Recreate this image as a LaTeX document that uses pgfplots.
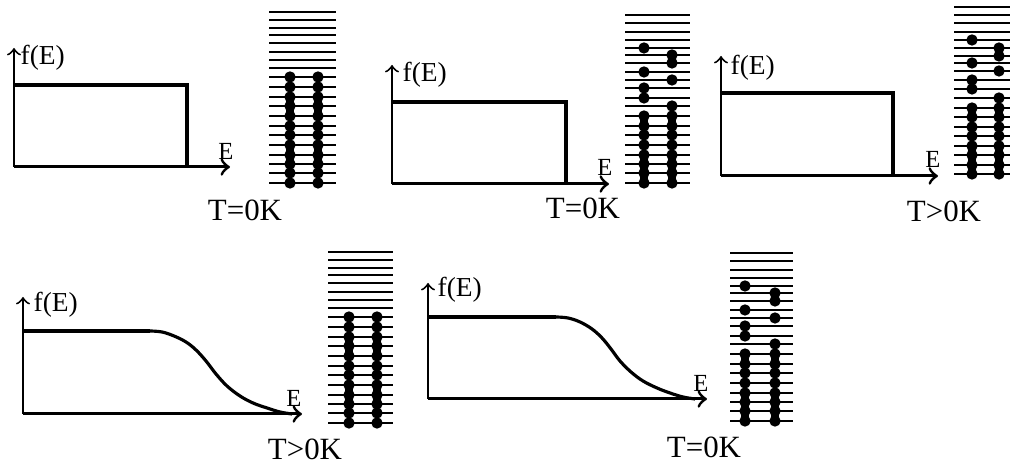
\documentclass[border=0pt]{standalone}
\usepackage{pgfplots}
\pgfplotsset{compat=1.18}
\usepackage{fontspec}
\setmainfont{Liberation Serif}
\tikzset{
  xax/.style={black, line width=0.85pt, no marks, ->},
  yax/.style={black, line width=0.55pt, no marks, ->},
  box/.style={black, line width=0.9pt, no marks},
  lev/.style={black, line width=0.6pt, no marks},
  dot/.style={black, only marks, mark=*, mark size=1.4pt},
  bar/.style={black, line width=2.2pt, no marks},
  lab/.style={font=\fontsize{7.8}{9}\selectfont, anchor=west, inner sep=0pt},
  elab/.style={font=\fontsize{7}{8}\selectfont, inner sep=0pt},
  tlab/.style={font=\fontsize{8.8}{10}\selectfont, inner sep=0pt},
}
\begin{document}
\begin{tikzpicture}
\begin{axis}[
  scale only axis, width=10.1cm, height=4.63cm,
  xmin=0, xmax=1010, ymin=0, ymax=463, y dir=reverse,
  hide axis, clip=false, unbounded coords=jump,
]
% ---------------- Panel 1 ----------------
\addplot[yax] coordinates {(14,167) (14,48)};
\addplot[xax] coordinates {(14,167) (230,167)};
\addplot[box] coordinates {(14,85) (187,85) (187,167)};
\addplot[lev] coordinates {
(269,12)(336,12) (nan,nan) (269,20)(336,20) (nan,nan) (269,28)(336,28) (nan,nan)
(269,35)(336,35) (nan,nan) (269,43)(336,43) (nan,nan) (269,52)(336,52) (nan,nan)
(269,60)(336,60) (nan,nan) (269,68)(336,68) (nan,nan) (269,77)(336,77) (nan,nan)
(269,87)(336,87) (nan,nan) (269,97)(336,97) (nan,nan) (269,106)(336,106) (nan,nan)
(269,116)(336,116) (nan,nan) (269,126)(336,126) (nan,nan) (269,135)(336,135) (nan,nan)
(269,145)(336,145) (nan,nan) (269,155)(336,155) (nan,nan) (269,164)(336,164) (nan,nan)
(269,173)(336,173) (nan,nan) (269,183)(336,183)};
\addplot[bar] coordinates {(290,97)(290,116) (nan,nan) (318,97)(318,116) (nan,nan)
(290,145)(290,164) (nan,nan) (318,145)(318,164)};
\addplot[dot] coordinates {
(290,77)(290,87)(290,97)(290,106)(290,116)(290,126)(290,135)(290,145)(290,155)(290,164)(290,173)(290,183)
(318,77)(318,87)(318,97)(318,106)(318,116)(318,126)(318,135)(318,145)(318,155)(318,164)(318,173)(318,183)};
\node[lab] at (axis cs:20,58) {f(E)};
\node[elab] at (axis cs:226,151) {E};
\node[tlab] at (axis cs:245,210) {T=0K};
% ---------------- Panel 2 ----------------
\addplot[yax] coordinates {(392,184) (392,65)};
\addplot[xax] coordinates {(392,184) (609,184)};
\addplot[box] coordinates {(392,102) (566,102) (566,184)};
\addplot[lev] coordinates {
(625,15)(690,15) (nan,nan) (625,23)(690,23) (nan,nan) (625,32)(690,32) (nan,nan)
(625,40)(690,40) (nan,nan) (625,48)(690,48) (nan,nan) (625,55)(690,55) (nan,nan)
(625,63)(690,63) (nan,nan) (625,72)(690,72) (nan,nan) (625,80)(690,80) (nan,nan)
(625,88)(690,88) (nan,nan) (625,98)(690,98) (nan,nan) (625,106)(690,106) (nan,nan)
(625,116)(690,116) (nan,nan) (625,126)(690,126) (nan,nan) (625,135)(690,135) (nan,nan)
(625,145)(690,145) (nan,nan) (625,155)(690,155) (nan,nan) (625,164)(690,164) (nan,nan)
(625,173)(690,173) (nan,nan) (625,183)(690,183)};
\addplot[bar] coordinates {(644,116)(644,126) (nan,nan) (672,116)(672,126) (nan,nan)
(644,155)(644,183) (nan,nan) (672,155)(672,183)};
\addplot[dot] coordinates {
(644,48)(644,72)(644,88)(644,98)(644,116)(644,126)(644,135)(644,145)(644,155)(644,164)(644,173)(644,183)
(672,55)(672,63)(672,80)(672,106)(672,116)(672,126)(672,135)(672,145)(672,155)(672,164)(672,173)(672,183)};
\node[lab] at (axis cs:402,75) {f(E)};
\node[elab] at (axis cs:605,167) {E};
\node[tlab] at (axis cs:583,208) {T=0K};
% ---------------- Panel 3 ----------------
\addplot[yax] coordinates {(721,176) (721,56)};
\addplot[xax] coordinates {(721,176) (938,176)};
\addplot[box] coordinates {(721,93) (893,93) (893,176)};
\addplot[lev] coordinates {
(954,7)(1010,7) (nan,nan) (954,15)(1010,15) (nan,nan) (954,23)(1010,23) (nan,nan)
(954,32)(1010,32) (nan,nan) (954,40)(1010,40) (nan,nan) (954,48)(1010,48) (nan,nan)
(954,56)(1010,56) (nan,nan) (954,63)(1010,63) (nan,nan) (954,71)(1010,71) (nan,nan)
(954,80)(1010,80) (nan,nan) (954,89)(1010,89) (nan,nan) (954,98)(1010,98) (nan,nan)
(954,108)(1010,108) (nan,nan) (954,117)(1010,117) (nan,nan) (954,127)(1010,127) (nan,nan)
(954,136)(1010,136) (nan,nan) (954,146)(1010,146) (nan,nan) (954,155)(1010,155) (nan,nan)
(954,165)(1010,165) (nan,nan) (954,174)(1010,174)};
\addplot[bar] coordinates {(972,108)(972,117) (nan,nan) (999,108)(999,117) (nan,nan)
(972,146)(972,174) (nan,nan) (999,146)(999,174)};
\addplot[dot] coordinates {
(972,40)(972,63)(972,80)(972,89)(972,108)(972,117)(972,127)(972,136)(972,146)(972,155)(972,165)(972,174)
(999,48)(999,56)(999,71)(999,98)(999,108)(999,117)(999,127)(999,136)(999,146)(999,155)(999,165)(999,174)};
\node[lab] at (axis cs:730,68) {f(E)};
\node[elab] at (axis cs:933,159) {E};
\node[tlab] at (axis cs:944,211) {T>0K};
% ---------------- Panel 4 ----------------
\addplot[yax] coordinates {(23,414) (23,297)};
\addplot[xax] coordinates {(23,414) (302,414)};
\addplot[box] coordinates {(23,331)(150,331)};
\addplot[box, smooth, tension=0.6] coordinates {
(150,331)(162,332)(174,336)(186,342)(196,350)(206,361)(216,374)(227,386)(240,396)(253,403)(267,408)(280,412)(292,414)};
\addplot[lev] coordinates {
(328,252)(393,252) (nan,nan) (328,260)(393,260) (nan,nan) (328,268)(393,268) (nan,nan)
(328,275)(393,275) (nan,nan) (328,283)(393,283) (nan,nan) (328,292)(393,292) (nan,nan)
(328,300)(393,300) (nan,nan) (328,308)(393,308) (nan,nan) (328,317)(393,317) (nan,nan)
(328,327)(393,327) (nan,nan) (328,337)(393,337) (nan,nan) (328,346)(393,346) (nan,nan)
(328,356)(393,356) (nan,nan) (328,366)(393,366) (nan,nan) (328,375)(393,375) (nan,nan)
(328,385)(393,385) (nan,nan) (328,395)(393,395) (nan,nan) (328,404)(393,404) (nan,nan)
(328,413)(393,413) (nan,nan) (328,423)(393,423)};
\addplot[bar] coordinates {(349,337)(349,356) (nan,nan) (377,337)(377,356) (nan,nan)
(349,385)(349,404) (nan,nan) (377,385)(377,404)};
\addplot[dot] coordinates {
(349,317)(349,327)(349,337)(349,346)(349,356)(349,366)(349,375)(349,385)(349,395)(349,404)(349,413)(349,423)
(377,317)(377,327)(377,337)(377,346)(377,356)(377,366)(377,375)(377,385)(377,395)(377,404)(377,413)(377,423)};
\node[lab] at (axis cs:33,305) {f(E)};
\node[elab] at (axis cs:294,398) {E};
\node[tlab] at (axis cs:305,449) {T>0K};
% ---------------- Panel 5 ----------------
\addplot[yax] coordinates {(428,399) (428,283)};
\addplot[xax] coordinates {(428,399) (707,399)};
\addplot[box] coordinates {(428,317)(556,317)};
\addplot[box, smooth, tension=0.6] coordinates {
(556,317)(568,318)(580,322)(592,329)(602,338)(611,349)(620,361)(631,372)(643,381)(657,388)(670,393)(683,397)(695,399)};
\addplot[lev] coordinates {
(730,253)(793,253) (nan,nan) (730,261)(793,261) (nan,nan) (730,270)(793,270) (nan,nan)
(730,278)(793,278) (nan,nan) (730,286)(793,286) (nan,nan) (730,293)(793,293) (nan,nan)
(730,301)(793,301) (nan,nan) (730,310)(793,310) (nan,nan) (730,318)(793,318) (nan,nan)
(730,326)(793,326) (nan,nan) (730,336)(793,336) (nan,nan) (730,344)(793,344) (nan,nan)
(730,354)(793,354) (nan,nan) (730,364)(793,364) (nan,nan) (730,373)(793,373) (nan,nan)
(730,383)(793,383) (nan,nan) (730,393)(793,393) (nan,nan) (730,402)(793,402) (nan,nan)
(730,411)(793,411) (nan,nan) (730,421)(793,421)};
\addplot[bar] coordinates {(745,354)(745,364) (nan,nan) (775,354)(775,364) (nan,nan)
(745,393)(745,421) (nan,nan) (775,393)(775,421)};
\addplot[dot] coordinates {
(745,286)(745,310)(745,326)(745,336)(745,354)(745,364)(745,373)(745,383)(745,393)(745,402)(745,411)(745,421)
(775,293)(775,301)(775,318)(775,344)(775,354)(775,364)(775,373)(775,383)(775,393)(775,402)(775,411)(775,421)};
\node[lab] at (axis cs:437,290) {f(E)};
\node[elab] at (axis cs:701,383) {E};
\node[tlab] at (axis cs:704,447) {T=0K};
\end{axis}
\pgfresetboundingbox
\useasboundingbox (0,0) rectangle (10.1cm,4.63cm);
\end{tikzpicture}
\end{document}
